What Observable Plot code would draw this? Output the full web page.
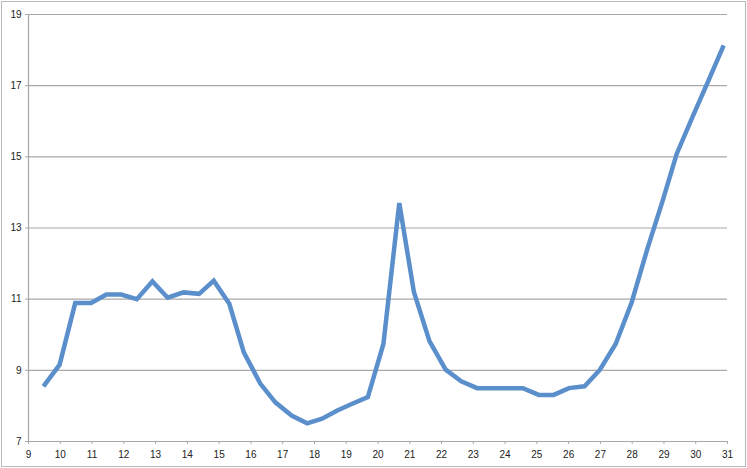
<!DOCTYPE html>
<html>
<head>
<meta charset="utf-8">
<script src="https://cdn.jsdelivr.net/npm/d3@7"></script>
<script src="https://cdn.jsdelivr.net/npm/@observablehq/plot@0.6"></script>
<style>
  html, body { margin: 0; padding: 0; background: #fff; }
  #chart svg { display: block; outline: 1.5px solid #b9b9b9; outline-offset: -2px; }
</style>
</head>
<body>
<div id="chart"></div>
<script>
const xValues = [9.47, 9.98, 10.47, 10.97, 11.45, 11.92, 12.41, 12.90, 13.38, 13.88, 14.37, 14.83, 15.32, 15.78, 16.30, 16.77, 17.28, 17.77, 18.24, 18.72, 19.19, 19.68, 20.17, 20.67, 21.13, 21.62, 22.13, 22.62, 23.12, 23.60, 24.08, 24.56, 25.06, 25.53, 26.01, 26.50, 26.98, 27.48, 27.98, 28.48, 28.96, 29.40, 29.90, 30.38, 30.88];
const yValues = [8.55, 9.16, 10.89, 10.89, 11.13, 11.13, 11.00, 11.50, 11.04, 11.19, 11.15, 11.52, 10.87, 9.50, 8.62, 8.10, 7.73, 7.51, 7.64, 7.87, 8.06, 8.25, 9.74, 13.70, 11.20, 9.82, 9.02, 8.69, 8.50, 8.50, 8.50, 8.50, 8.31, 8.31, 8.50, 8.55, 9.01, 9.74, 10.90, 12.42, 13.77, 15.08, 16.12, 17.10, 18.13];
const xTicks = [9, 10, 11, 12, 13, 14, 15, 16, 17, 18, 19, 20, 21, 22, 23, 24, 25, 26, 27, 28, 29, 30, 31];
const yTicks = [7, 9, 11, 13, 15, 17, 19];

const data = xValues.map((x, i) => ({x, y: yValues[i]}));

const chart = Plot.plot({
  width: 747,
  height: 468,
  marginLeft: 28,
  marginRight: 20,
  marginTop: 14,
  marginBottom: 27,
  style: {fontFamily: "Liberation Sans, Arial, sans-serif", fontSize: "10px", color: "#222", background: "#fff"},
  x: {domain: [9, 31], ticks: xTicks, tickFormat: d => String(d), label: null},
  y: {domain: [7, 19], ticks: yTicks, tickFormat: d => String(d), label: null},
  marks: [
    Plot.ruleY(yTicks, {stroke: "#a8a8a8", strokeWidth: 1.2}),
    Plot.ruleX([9], {stroke: "#a8a8a8", strokeWidth: 1.2}),
    Plot.axisX({ticks: xTicks, tickSize: 3, tickPadding: 6, stroke: "#a8a8a8", tickFormat: d => String(d), label: null}),
    Plot.axisY({ticks: yTicks, tickSize: 3, tickPadding: 4, stroke: "#a8a8a8", tickFormat: d => String(d), label: null}),
    Plot.line(data, {x: "x", y: "y", stroke: "#5a8fcb", strokeWidth: 4.5, strokeLinejoin: "miter", strokeMiterlimit: 4, strokeLinecap: "butt"})
  ]
});
document.getElementById("chart").appendChild(chart);
</script>
</body>
</html>
